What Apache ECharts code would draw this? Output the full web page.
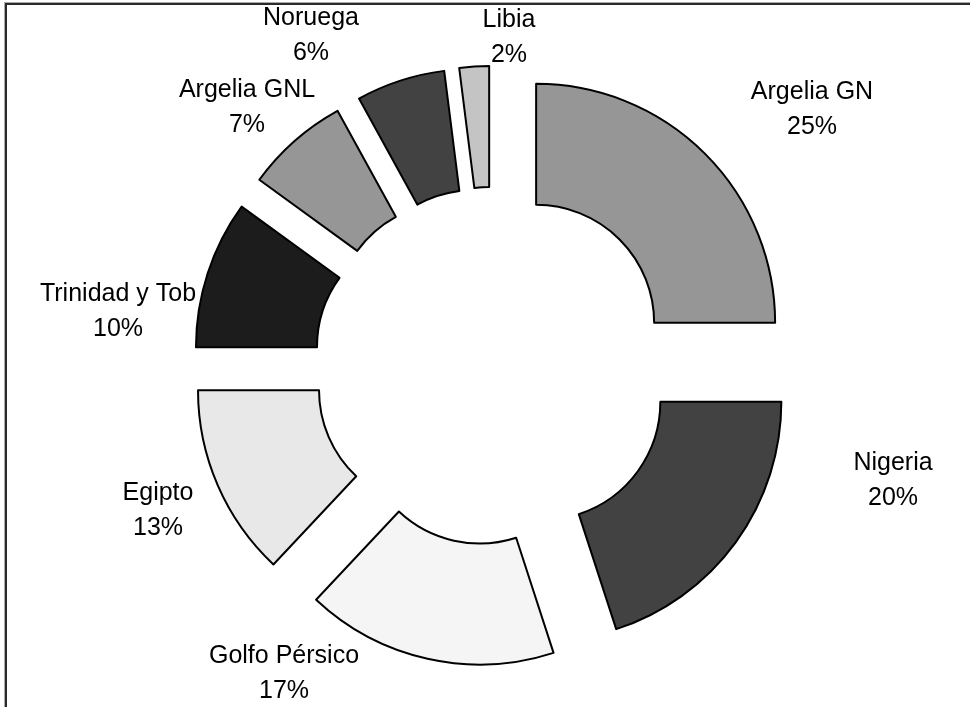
<!DOCTYPE html>
<html>
<head>
<meta charset="utf-8">
<script src="https://cdn.jsdelivr.net/npm/echarts@6/dist/echarts.min.js"></script>
<style>
  html, body { margin: 0; padding: 0; background: #fff; }
  #frame { position: absolute; left: 5px; top: 3px; width: 970px; height: 710px;
           border-top: 2px solid #2a2a2a; border-left: 2px solid #2a2a2a; box-shadow: -1px -1px 0 #aaa; }
  #chart { position: absolute; left: 0; top: 0; width: 970px; height: 707px; }
</style>
</head>
<body>
<div id="frame"></div>
<div id="chart"></div>
<script>
const categories = ['Argelia GN', 'Nigeria', 'Golfo Pérsico', 'Egipto', 'Trinidad y Tob', 'Argelia GNL', 'Noruega', 'Libia'];
const shares = [25, 20, 17, 13, 10, 7, 6, 2];
const sliceColors = ['#969696', '#424242', '#f5f5f5', '#e8e8e8', '#1c1c1c', '#969696', '#424242', '#c4c4c4'];

const FONT = "'Liberation Sans', Arial, Helvetica, sans-serif";

// label block centres (layout only), in the same order as categories
const labelAnchors = [[812, 110], [893, 481], [284, 674], [158, 511], [118, 312], [247, 108], [311, 36], [509, 38]];

const CENTER = [493, 366];
const RADIUS = [118, 239];

const chart = echarts.init(document.getElementById('chart'), null, { renderer: 'canvas' });
chart.setOption({
  animation: false,
  backgroundColor: 'transparent',
  series: [{
    // exploded doughnut slices
    type: 'pie',
    center: CENTER,
    radius: RADIUS,
    startAngle: 90,
    clockwise: true,
    selectedMode: 'multiple',
    selectedOffset: 61,
    itemStyle: { borderColor: '#000', borderWidth: 2 },
    emphasis: { disabled: true },
    label: { show: false },
    labelLine: { show: false },
    data: categories.map((name, i) => ({
      name: name,
      value: shares[i],
      selected: true,
      itemStyle: { color: sliceColors[i] }
    }))
  }, {
    // same data, invisible sectors: carries the category / percent labels
    type: 'pie',
    center: CENTER,
    radius: RADIUS,
    startAngle: 90,
    clockwise: true,
    silent: true,
    percentPrecision: 0,
    avoidLabelOverlap: false,
    itemStyle: { color: 'rgba(0,0,0,0)', borderWidth: 0 },
    emphasis: { disabled: true },
    label: {
      show: true,
      position: 'outside',
      formatter: '{n|{b}}\n{n|{d}%}',
      color: '#000',
      rich: {
        n: { fontFamily: FONT, fontSize: 25, lineHeight: 35, align: 'center', color: '#000' }
      }
    },
    labelLine: { show: false, length: 30, length2: 10 },
    labelLayout: function (params) {
      const p = labelAnchors[params.dataIndex];
      return { x: p[0], y: p[1], align: 'center', verticalAlign: 'middle' };
    },
    data: categories.map((name, i) => ({ name: name, value: shares[i] }))
  }]
});
</script>
</body>
</html>
